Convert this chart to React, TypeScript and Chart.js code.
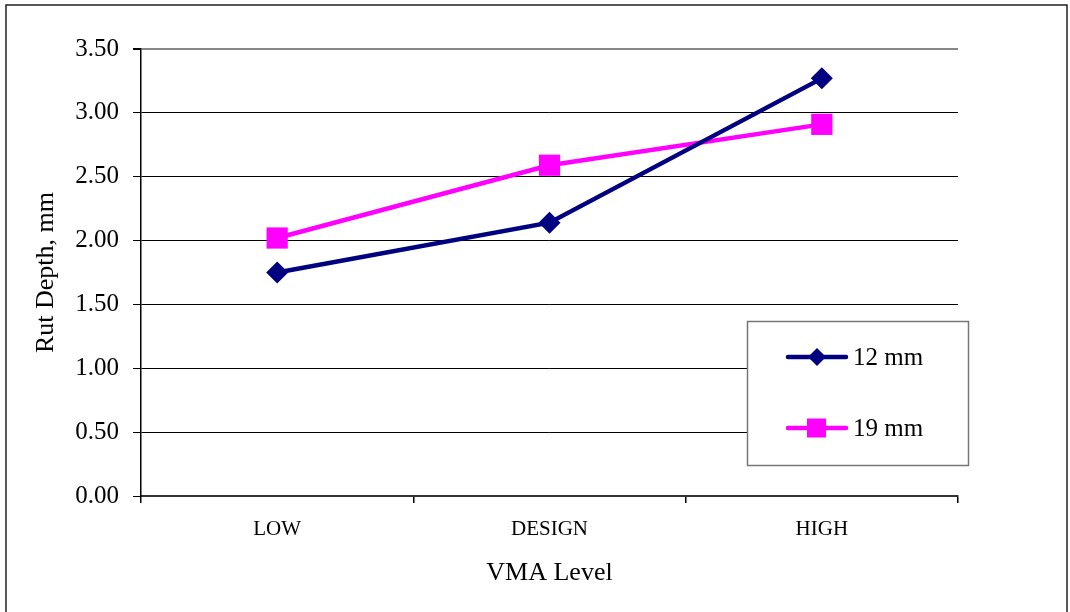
import React, { useEffect, useRef } from "react";
import { Chart, registerables } from "chart.js";

Chart.register(...registerables);

const categories = ["LOW", "DESIGN", "HIGH"];
const series12 = [1.75, 2.14, 3.27];
const series19 = [2.02, 2.59, 2.91];
const seriesNames = ["12 mm", "19 mm"];
const seriesColors = ["#000080", "#FF00FF"];
const yTicks = [0, 0.5, 1, 1.5, 2, 2.5, 3, 3.5];

const FONT = "'Liberation Serif', 'Times New Roman', serif";

const framePlugin = {
  id: "frame",
  beforeDraw(chart: any) {
    const ctx = chart.ctx;
    ctx.save();
    ctx.fillStyle = "#ffffff";
    ctx.fillRect(0, 0, chart.width, chart.height);
    ctx.strokeStyle = "#222";
    ctx.lineWidth = 1.5;
    ctx.strokeRect(6, 5, 1061, 640);
    ctx.restore();
  },
};

const legendPlugin = {
  id: "boxLegend",
  afterDraw(chart: any) {
    const ctx = chart.ctx;
    ctx.save();
    ctx.fillStyle = "#ffffff";
    ctx.fillRect(747.5, 321.5, 221, 144);
    ctx.strokeStyle = "#777";
    ctx.lineWidth = 1.5;
    ctx.strokeRect(747.5, 321.5, 221, 144);
    const rows = [357, 428];
    seriesNames.forEach((name, i) => {
      const y = rows[i];
      ctx.strokeStyle = seriesColors[i];
      ctx.lineWidth = 4.5;
      ctx.lineCap = "round";
      ctx.beginPath();
      ctx.moveTo(788, y);
      ctx.lineTo(846, y);
      ctx.stroke();
      ctx.fillStyle = seriesColors[i];
      const cx = 817;
      if (i === 0) {
        ctx.beginPath();
        ctx.moveTo(cx - 9, y);
        ctx.lineTo(cx, y - 9);
        ctx.lineTo(cx + 9, y);
        ctx.lineTo(cx, y + 9);
        ctx.closePath();
        ctx.fill();
      } else {
        ctx.fillRect(cx - 10, y - 9.5, 19, 19);
      }
      ctx.fillStyle = "#000";
      ctx.font = `25px ${FONT}`;
      ctx.textAlign = "left";
      ctx.textBaseline = "middle";
      ctx.fillText(name, 853, y + 1);
    });
    ctx.restore();
  },
};

export default function App() {
  const ref = useRef<HTMLCanvasElement>(null);
  useEffect(() => {
    document.body.style.margin = "0";
    const canvas = ref.current!;
    const chart = new Chart(canvas, {
      type: "line",
      data: {
        labels: categories,
        datasets: [
          {
            label: seriesNames[0],
            data: series12,
            borderColor: seriesColors[0],
            backgroundColor: seriesColors[0],
            borderWidth: 4.5,
            pointStyle: "rectRot",
            pointRadius: 11,
            pointBorderWidth: 0,
            pointBackgroundColor: seriesColors[0],
            tension: 0,
          },
          {
            label: seriesNames[1],
            data: series19,
            borderColor: seriesColors[1],
            backgroundColor: seriesColors[1],
            borderWidth: 4.5,
            pointStyle: "rect",
            pointRadius: 15,
            pointBorderWidth: 0,
            pointBackgroundColor: seriesColors[1],
            tension: 0,
          },
        ],
      },
      options: {
        responsive: false,
        animation: false,
        devicePixelRatio: 1,
        layout: { padding: { top: 49, right: 112, left: 0, bottom: 0 } },
        plugins: {
          legend: { display: false },
          tooltip: { enabled: false },
        },
        scales: {
          x: {
            type: "category",
            offset: true,
            afterFit: (s: any) => {
              s.height = 116;
            },
            grid: {
              offset: true,
              drawOnChartArea: false,
              drawTicks: true,
              tickLength: 7,
              color: "#000",
              tickColor: "#000",
              lineWidth: 1.5,
            },
            border: { display: true, color: "#333", width: 2 },
            ticks: {
              color: "#000",
              font: { family: FONT, size: 21 },
              padding: 14,
              maxRotation: 0,
            },
            title: {
              display: true,
              text: "VMA Level",
              color: "#000",
              font: { family: FONT, size: 26 },
              padding: { top: 0, bottom: 23 },
            },
          },
          y: {
            min: 0,
            max: 3.5,
            afterFit: (s: any) => {
              s.width = 141;
            },
            afterBuildTicks: (s: any) => {
              s.ticks = yTicks.map((v) => ({ value: v }));
            },
            grid: {
              color: (c: any) => (c.tick && c.tick.value === 3.5 ? "#888" : "#000"),
              lineWidth: (c: any) => (c.tick && c.tick.value === 3.5 ? 2 : 1),
              tickColor: "#000",
              tickLength: 8,
            },
            border: { display: true, color: "#000", width: 1.5 },
            ticks: {
              color: "#000",
              font: { family: FONT, size: 25 },
              padding: 14,
              callback: (v: any) => Number(v).toFixed(2),
            },
            title: {
              display: true,
              text: "Rut Depth, mm",
              color: "#000",
              font: { family: FONT, size: 26 },
              padding: { top: 31, bottom: 0 },
            },
          },
        },
      },
      plugins: [framePlugin, legendPlugin],
    });
    return () => chart.destroy();
  }, []);
  return (
    <div style={{ width: 1070, height: 612 }}>
      <canvas ref={ref} width={1070} height={612} />
    </div>
  );
}
